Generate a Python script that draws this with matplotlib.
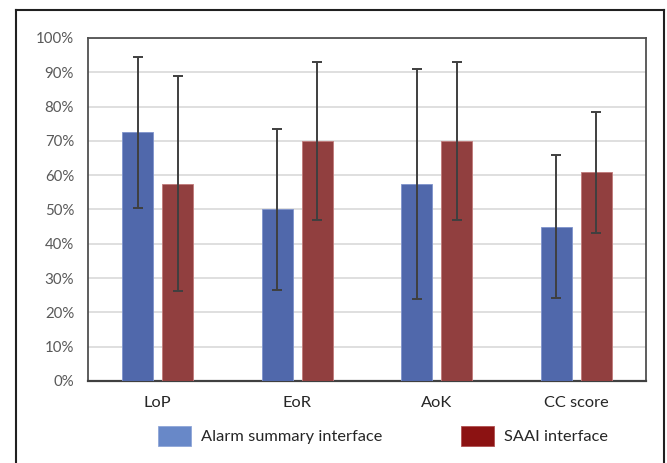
import matplotlib
matplotlib.use("Agg")
import matplotlib.pyplot as plt
from matplotlib.patches import Patch
from matplotlib.lines import Line2D
from matplotlib.ticker import FuncFormatter
import numpy as np

categories = ["LoP", "EoR", "AoK", "CC score"]
alarm_summary = [72.5, 50.0, 57.5, 45.0]
alarm_summary_err = [22.0, 23.5, 33.5, 20.8]
saai = [57.5, 70.0, 70.0, 60.8]
saai_err = [31.3, 23.0, 23.0, 17.6]
series_labels = ["Alarm summary interface", "SAAI interface"]

plt.rcParams["font.family"] = ["Lato", "DejaVu Sans"]

fig = plt.figure(figsize=(6.67, 4.63), dpi=100)
ax = fig.add_axes([88 / 667, 1 - 381 / 463, 558 / 667, 343 / 463])

x = np.arange(len(categories))
width = 0.222
offset = 0.143
bar_blue = "#5068AB"
bar_red = "#913F3F"
err_kw = dict(ecolor="#3F3F3F", elinewidth=1.4, capsize=3.5, capthick=1.4)

ax.bar(x - offset, alarm_summary, width, color=bar_blue, edgecolor="#7F93CC",
       linewidth=0.6, yerr=alarm_summary_err, error_kw=err_kw, zorder=3)
ax.bar(x + offset, saai, width, color=bar_red, edgecolor="#C07A7A",
       linewidth=0.6, yerr=saai_err, error_kw=err_kw, zorder=3)

ax.set_xlim(-0.5, len(categories) - 0.5)
ax.set_ylim(0, 100)
ax.set_yticks(np.arange(0, 101, 10))
ax.yaxis.set_major_formatter(FuncFormatter(lambda v, _: f"{int(v)}%"))
ax.set_xticks(x)
ax.set_xticklabels(categories)
ax.grid(axis="y", color="#D9D9D9", linewidth=1.2, zorder=0)
ax.tick_params(axis="both", length=0, colors="#595959", labelsize=10.8)
ax.tick_params(axis="x", pad=11, labelcolor="#262626", labelsize=11.8)
ax.tick_params(axis="y", pad=10)
for side in ["left", "right", "top"]:
    ax.spines[side].set_color("#505050")
    ax.spines[side].set_linewidth(1.3)
ax.spines["bottom"].set_color("#404040")
ax.spines["bottom"].set_linewidth(1.6)

# outer frame around the figure
frame_kw = dict(color="#202020", linewidth=1.5, transform=fig.transFigure)
l, r, t = 16 / 667, 664 / 667, 1 - 10 / 463
fig.add_artist(Line2D([l, r], [t, t], **frame_kw))
fig.add_artist(Line2D([l, l], [0, t], **frame_kw))
fig.add_artist(Line2D([r, r], [0, t], **frame_kw))

handles = [Patch(facecolor="#6888C8", edgecolor="#8FA6D8", linewidth=0.6),
           Patch(facecolor="#8C1212", edgecolor="#B05050", linewidth=0.6)]
fig.legend(handles, series_labels, loc="center", bbox_to_anchor=(383 / 667, 1 - 436 / 463),
           ncol=2, frameon=False, fontsize=11.8, handlelength=2.0, handleheight=1.45,
           handletextpad=0.6, columnspacing=4.8, labelcolor="#262626")

fig.savefig("out.png", dpi=100, facecolor="white")
